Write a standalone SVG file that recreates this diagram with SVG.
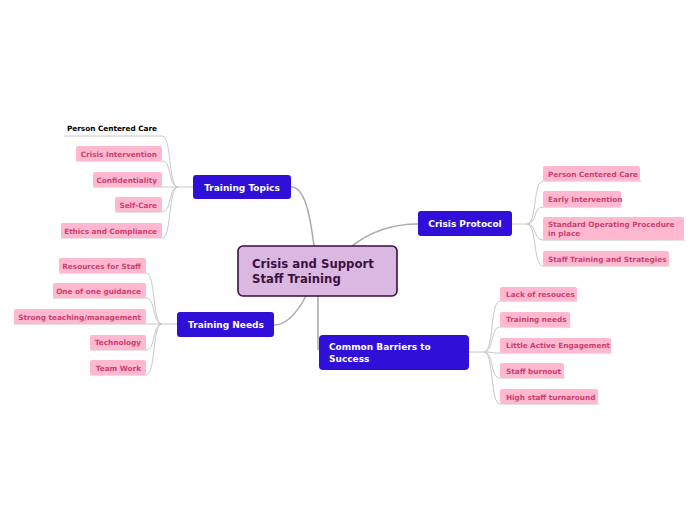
<svg xmlns="http://www.w3.org/2000/svg" width="697" height="520" viewBox="0 0 697 520">
<style>
.main{fill:#3010d8;}
.mt{fill:#ffffff;font-family:"DejaVu Sans",sans-serif;font-weight:bold;font-size:9px;}
.leaf{fill:#ffb8d0;}
.lt{fill:#c8426e;font-family:"DejaVu Sans",sans-serif;font-weight:bold;font-size:7.3px;}
.ul{stroke:#d0d0d0;stroke-width:1;fill:none;}
.lc{stroke:#c8c8c8;stroke-width:1;fill:none;}
.mc{stroke:#acacac;stroke-width:1.6;fill:none;}
</style>
<rect width="697" height="520" fill="#ffffff"/>
<g id="connectors">
<path class="mc" d="M291,187 C305,187 310,215 314,246"/>
<path class="mc" d="M352,246 C370,232 390,224 418,224"/>
<path class="mc" d="M306,296 C296,315 285,325 274,325"/>
<path class="mc" d="M318,296 L318,350"/>
<!-- Training Topics leaves -->
<path class="lc" d="M193,187 L178,187"/>
<path class="lc" d="M178,187 C168,187 172,136 162,136 L64,136"/>
<path class="lc" d="M178,187 C168,187 172,161 162,161 L76,161"/>
<path class="lc" d="M178,187 L93,187"/>
<path class="lc" d="M178,187 C168,187 172,212 162,212 L115,212"/>
<path class="lc" d="M178,187 C168,187 172,238 162,238 L61,238"/>
<!-- Training Needs leaves -->
<path class="lc" d="M177,324 L162,324"/>
<path class="lc" d="M162,324 C152,324 156,273 146,273 L59,273"/>
<path class="lc" d="M162,324 C152,324 156,298 146,298 L53,298"/>
<path class="lc" d="M162,324 L14,324"/>
<path class="lc" d="M162,324 C152,324 156,350 146,350 L90,350"/>
<path class="lc" d="M162,324 C152,324 156,375 146,375 L90,375"/>
<!-- Crisis Protocol leaves -->
<path class="lc" d="M512,224 L527,224"/>
<path class="lc" d="M527,224 C537,224 533,181 543,181 L641,181"/>
<path class="lc" d="M527,224 C537,224 533,207 543,207 L622,207"/>
<path class="lc" d="M527,224 C537,224 533,240 543,240 L685,240"/>
<path class="lc" d="M527,224 C537,224 533,266 543,266 L670,266"/>
<!-- Common Barriers leaves -->
<path class="lc" d="M469,352 L484,352"/>
<path class="lc" d="M484,352 C494,352 490,301 500,301 L578,301"/>
<path class="lc" d="M484,352 C494,352 490,327 500,327 L571,327"/>
<path class="lc" d="M484,352 C494,352 490,353 500,353 L612,353"/>
<path class="lc" d="M484,352 C494,352 490,378 500,378 L565,378"/>
<path class="lc" d="M484,352 C494,352 490,404 500,404 L599,404"/>
</g>
<g id="central">
<rect x="238" y="246" width="159" height="50" rx="5" fill="#dab8e2" stroke="#3a0c40" stroke-width="1.6"/>
<text x="252" y="268" fill="#3a1040" font-family="DejaVu Sans,sans-serif" font-weight="bold" font-size="11.7">Crisis and Support</text>
<text x="252" y="283" fill="#3a1040" font-family="DejaVu Sans,sans-serif" font-weight="bold" font-size="11.7">Staff Training</text>
</g>
<g id="training-topics">
<rect class="main" x="193" y="175" width="98" height="24" rx="3"/>
<text class="mt" x="242" y="191" text-anchor="middle">Training Topics</text>
</g>
<g id="crisis-protocol">
<rect class="main" x="418" y="211" width="94" height="25" rx="3"/>
<text class="mt" x="465" y="227" text-anchor="middle">Crisis Protocol</text>
</g>
<g id="training-needs">
<rect class="main" x="177" y="312" width="97" height="25" rx="3"/>
<text class="mt" x="226" y="328" text-anchor="middle">Training Needs</text>
</g>
<g id="common-barriers">
<rect class="main" x="319" y="335" width="150" height="35" rx="4"/>
<text class="mt" x="329" y="350">Common Barriers to</text>
<text class="mt" x="329" y="362">Success</text>
</g>
<g id="tt-person">
<text x="157" y="131" text-anchor="end" fill="#000000" font-family="DejaVu Sans,sans-serif" font-weight="bold" font-size="7.3">Person Centered Care</text>
</g>
<g id="tt-crisis">
<rect class="leaf" x="76" y="146" width="86" height="15" rx="2"/>
<text class="lt" x="157" y="156.5" text-anchor="end">Crisis Intervention</text>
</g>
<g id="tt-conf">
<rect class="leaf" x="93" y="172" width="69" height="15" rx="2"/>
<text class="lt" x="157" y="182.5" text-anchor="end">Confidentiality</text>
</g>
<g id="tt-self">
<rect class="leaf" x="115" y="197" width="47" height="15" rx="2"/>
<text class="lt" x="157" y="207.5" text-anchor="end">Self-Care</text>
</g>
<g id="tt-ethics">
<rect class="leaf" x="61" y="223" width="101" height="15" rx="2"/>
<text class="lt" x="157" y="233.5" text-anchor="end">Ethics and Compliance</text>
</g>
<g id="tn-resources">
<rect class="leaf" x="59" y="258" width="87" height="15" rx="2"/>
<text class="lt" x="141" y="268.5" text-anchor="end">Resources for Staff</text>
</g>
<g id="tn-one">
<rect class="leaf" x="53" y="283" width="93" height="15" rx="2"/>
<text class="lt" x="141" y="294" text-anchor="end">One of one guidance</text>
</g>
<g id="tn-strong">
<rect class="leaf" x="14" y="309" width="132" height="15" rx="2"/>
<text class="lt" x="141" y="319.5" text-anchor="end">Strong teaching/management</text>
</g>
<g id="tn-tech">
<rect class="leaf" x="90" y="335" width="56" height="15" rx="2"/>
<text class="lt" x="141" y="345" text-anchor="end">Technology</text>
</g>
<g id="tn-team">
<rect class="leaf" x="90" y="360" width="56" height="15" rx="2"/>
<text class="lt" x="141" y="371" text-anchor="end">Team Work</text>
</g>
<g id="cp-person">
<rect class="leaf" x="543" y="166" width="97" height="15" rx="2"/>
<text class="lt" x="548" y="176.5">Person Centered Care</text>
</g>
<g id="cp-early">
<rect class="leaf" x="543" y="191" width="78" height="16" rx="2"/>
<text class="lt" x="548" y="202">Early Intervention</text>
</g>
<g id="cp-sop">
<rect class="leaf" x="543" y="217" width="141" height="23" rx="2"/>
<text class="lt" x="548" y="227">Standard Operating Procedure</text>
<text class="lt" x="548" y="236">in place</text>
</g>
<g id="cp-staff">
<rect class="leaf" x="543" y="251" width="126" height="15" rx="2"/>
<text class="lt" x="548" y="261.5">Staff Training and Strategies</text>
</g>
<g id="cb-lack">
<rect class="leaf" x="500" y="287" width="77" height="14" rx="2"/>
<text class="lt" x="506" y="297">Lack of resouces</text>
</g>
<g id="cb-training">
<rect class="leaf" x="500" y="312" width="70" height="15" rx="2"/>
<text class="lt" x="506" y="322">Training needs</text>
</g>
<g id="cb-little">
<rect class="leaf" x="500" y="338" width="111" height="15" rx="2"/>
<text class="lt" x="506" y="348">Little Active Engagement</text>
</g>
<g id="cb-burnout">
<rect class="leaf" x="500" y="363" width="64" height="15" rx="2"/>
<text class="lt" x="506" y="373.5">Staff burnout</text>
</g>
<g id="cb-high">
<rect class="leaf" x="500" y="389" width="98" height="15" rx="2"/>
<text class="lt" x="506" y="399.5">High staff turnaround</text>
</g>
</svg>
